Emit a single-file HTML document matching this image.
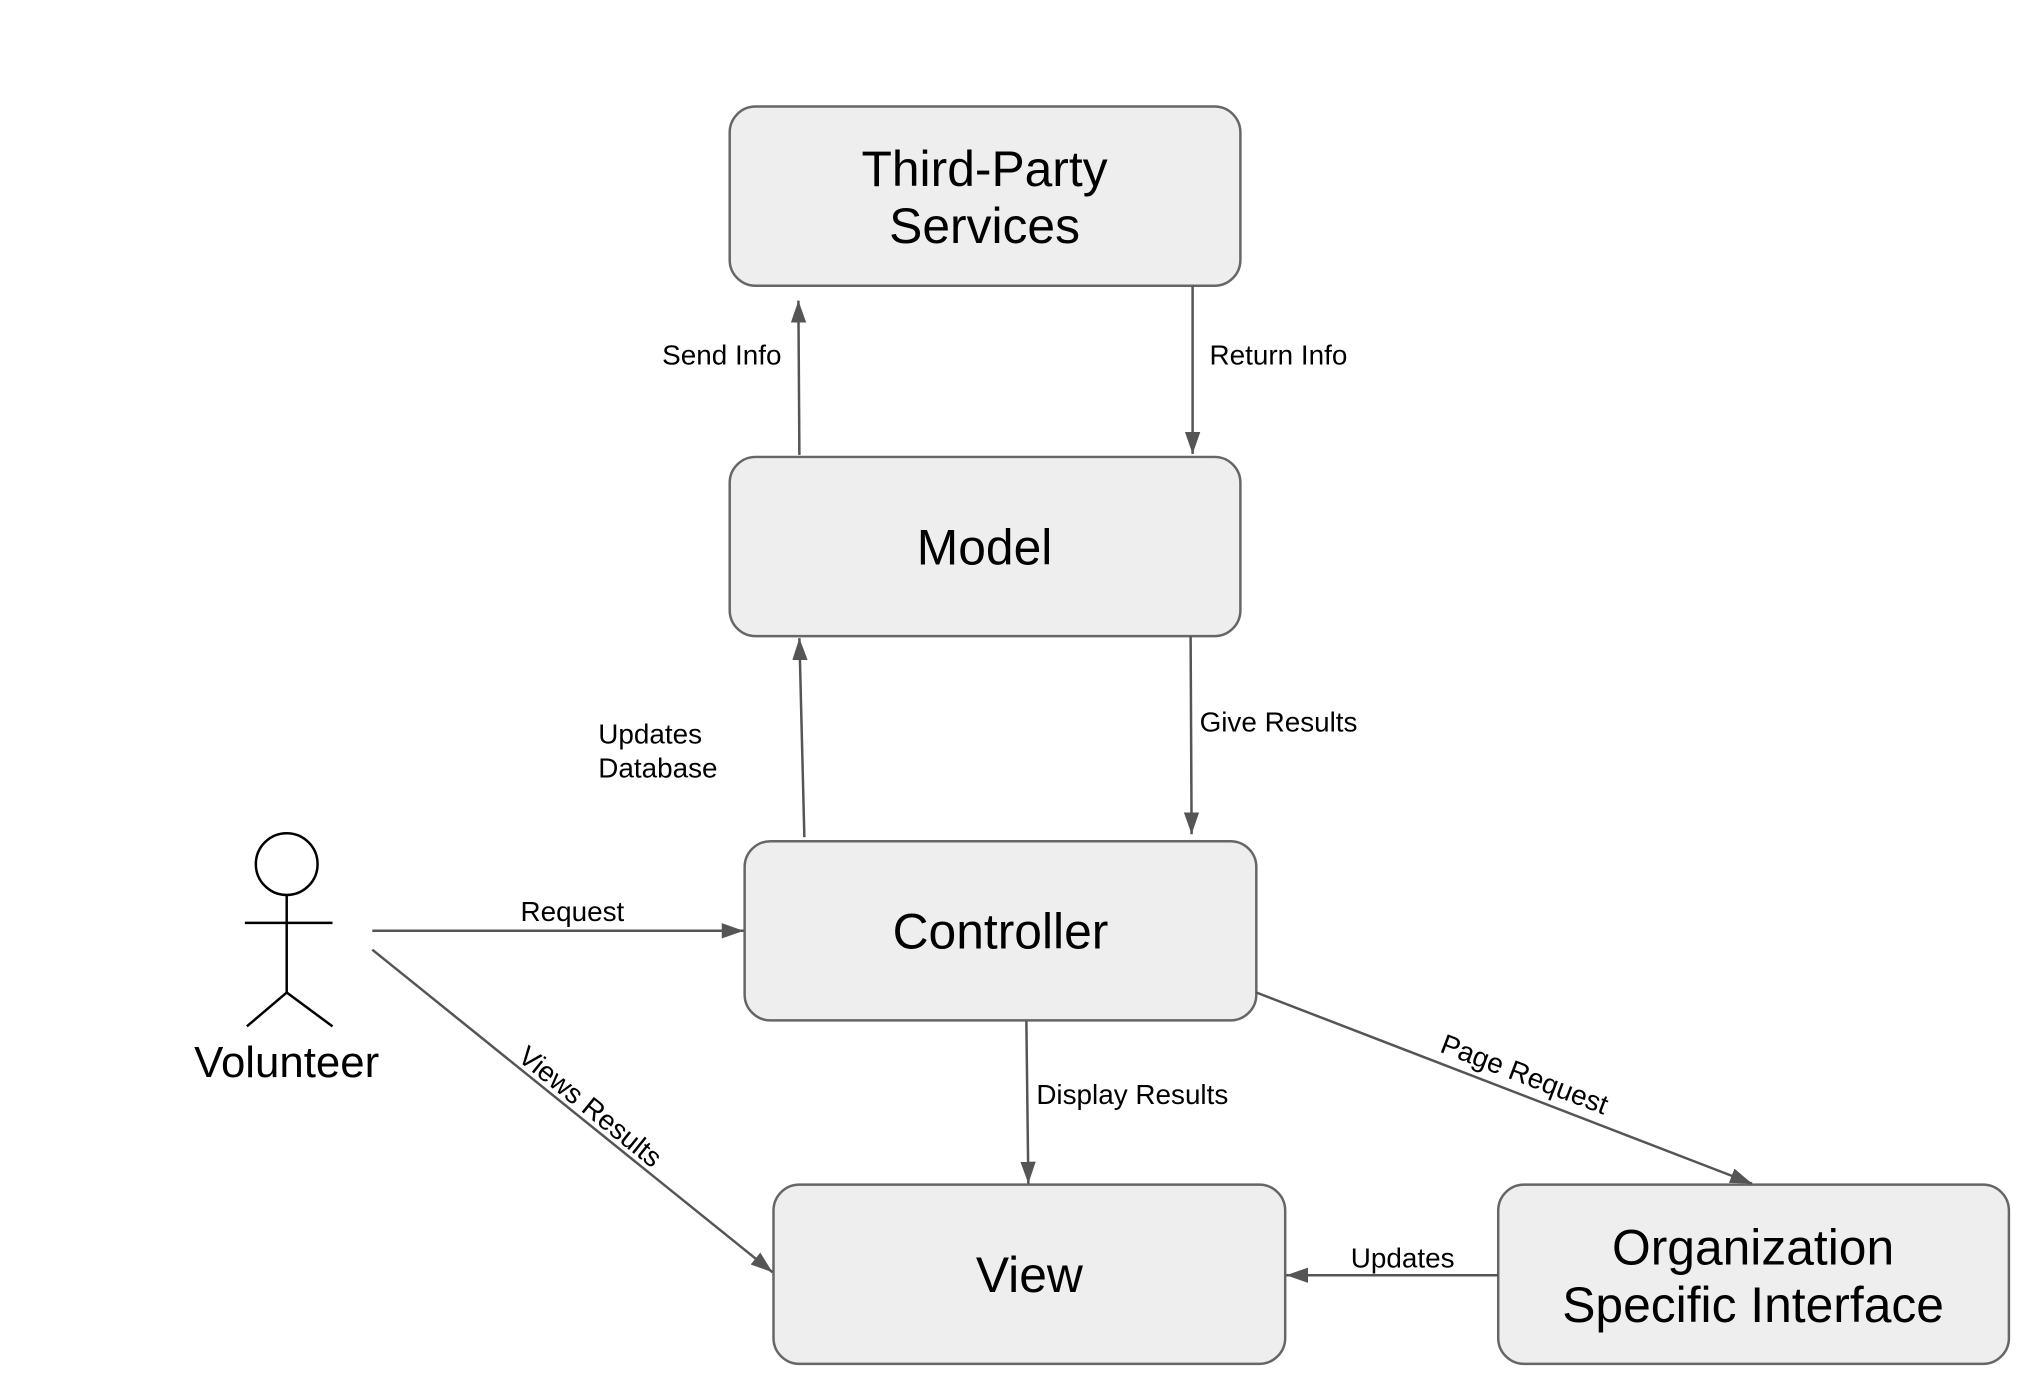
<!DOCTYPE html>
<html><head><meta charset="utf-8"><style>html,body{margin:0;padding:0;background:#fff}svg{display:block}</style></head>
<body>
<svg width="2034" height="1374" viewBox="0 0 2034 1374" xmlns="http://www.w3.org/2000/svg" font-family="Liberation Sans, Arial, sans-serif">
<defs>
<marker id="a" viewBox="0 0 10 10" refX="10" refY="5" markerWidth="22" markerHeight="22" markerUnits="userSpaceOnUse" orient="auto"><path d="M0,1.5 L10,5 L0,8.5 z" fill="#555"/></marker>
</defs>
<g transform="scale(0.9955)">
<g fill="#eeeeee" stroke="#666" stroke-width="2.5">
<rect x="733" y="107" width="513" height="180" rx="26"/>
<rect x="733" y="459" width="513" height="180" rx="26"/>
<rect x="748" y="845" width="514" height="180" rx="26"/>
<rect x="777" y="1190" width="514" height="180" rx="26"/>
<rect x="1505" y="1190" width="513" height="180" rx="26"/>
</g>
<g font-size="50" text-anchor="middle" fill="#000">
<text x="989" y="187">Third-Party</text>
<text x="989" y="244">Services</text>
<text x="989" y="567">Model</text>
<text x="1005" y="953">Controller</text>
<text x="1034" y="1298">View</text>
<text x="1761" y="1270">Organization</text>
<text x="1761" y="1328">Specific Interface</text>
</g>
<g stroke="#555" stroke-width="2.5" fill="none" marker-end="url(#a)">
<line x1="803" y1="457" x2="802" y2="302"/>
<line x1="1198" y1="287" x2="1198" y2="456"/>
<line x1="808" y1="841" x2="803" y2="641"/>
<line x1="1196" y1="639" x2="1197" y2="838"/>
<line x1="374" y1="935" x2="747" y2="935"/>
<line x1="374" y1="954" x2="776" y2="1278"/>
<line x1="1031" y1="1026" x2="1033" y2="1189"/>
<line x1="1262" y1="997" x2="1760" y2="1189"/>
<line x1="1505" y1="1281" x2="1292" y2="1281"/>
</g>
<g font-size="28" fill="#000">
<text x="785" y="366" text-anchor="end">Send Info</text>
<text x="1215" y="366">Return Info</text>
<text x="601" y="747">Updates</text>
<text x="601" y="781">Database</text>
<text x="1205" y="735">Give Results</text>
<text x="575" y="925" text-anchor="middle">Request</text>
<text x="1041" y="1109">Display Results</text>
<text x="1409" y="1273" text-anchor="middle">Updates</text>
<text transform="translate(587,1119) rotate(38.8)" text-anchor="middle">Views Results</text>
<text transform="translate(1528,1088) rotate(21)" text-anchor="middle">Page Request</text>
</g>
<g stroke="#000" stroke-width="2.5" fill="none">
<circle cx="288" cy="868" r="31" fill="#fff"/>
<line x1="246" y1="927" x2="334" y2="927"/>
<line x1="288" y1="899" x2="288" y2="997"/>
<line x1="288" y1="997" x2="248" y2="1031"/>
<line x1="288" y1="997" x2="334" y2="1031"/>
</g>
<text x="288" y="1082" font-size="44" text-anchor="middle">Volunteer</text>
</g>
</svg>
</body></html>
